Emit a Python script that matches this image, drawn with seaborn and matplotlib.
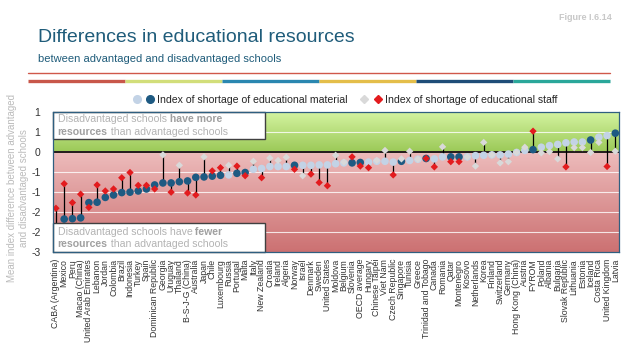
import numpy as np
import pandas as pd
import matplotlib.pyplot as plt
import seaborn as sns
from matplotlib.colors import LinearSegmentedColormap
from matplotlib.patches import Rectangle
from matplotlib.lines import Line2D
from matplotlib.legend_handler import HandlerTuple

# Data
countries = [
    'CABA (Argentina)', 'Mexico', 'Peru', 'Macao (China)', 'United Arab Emirates',
    'Lebanon', 'Jordan', 'Colombia', 'Brazil', 'Indonesia', 'Turkey', 'Spain',
    'Dominican Republic', 'Georgia', 'Uruguay', 'Thailand', 'B-S-J-G (China)',
    'Australia', 'Japan', 'Chile', 'Luxembourg', 'Russia', 'Portugal', 'Malta',
    'Italy', 'New Zealand', 'Croatia', 'Ireland', 'Algeria', 'Norway', 'Israel',
    'Denmark', 'Sweden', 'United States', 'Moldova', 'Belgium', 'Slovenia',
    'OECD average', 'Hungary', 'Chinese Taipei', 'Viet Nam', 'Czech Republic',
    'Singapore', 'Tunisia', 'Greece', 'Trinidad and Tobago', 'Canada', 'Romania',
    'Qatar', 'Montenegro', 'Kosovo', 'Netherlands', 'Korea', 'Finland',
    'Switzerland', 'Germany', 'Hong Kong (China)', 'Austria', 'FYROM', 'Poland',
    'Albania', 'Bulgaria', 'Slovak Republic', 'Lithuania', 'Estonia', 'Iceland',
    'Costa Rica', 'United Kingdom', 'Latvia']

material = [
    -2.10, -1.68, -1.67, -1.65, -1.27, -1.26, -1.14, -1.08, -1.02, -1.01, -0.98, -0.93,
    -0.83, -0.78, -0.78, -0.75, -0.73, -0.64, -0.63, -0.61, -0.59, -0.58, -0.54, -0.52,
    -0.44, -0.42, -0.37, -0.37, -0.37, -0.34, -0.34, -0.34, -0.33, -0.33, -0.30, -0.28,
    -0.28, -0.27, -0.26, -0.24, -0.24, -0.26, -0.24, -0.22, -0.19, -0.17, -0.18, -0.13,
    -0.13, -0.13, -0.13, -0.10, -0.09, -0.08, -0.08, -0.06, -0.02, 0.03, 0.05, 0.11,
    0.15, 0.18, 0.22, 0.24, 0.24, 0.29, 0.36, 0.40, 0.46]
material_sig = [
    1, 1, 1, 1, 1, 1, 1, 1, 1, 1, 1, 1,
    1, 1, 1, 1, 1, 1, 1, 1, 1, 0, 1, 1,
    0, 0, 0, 0, 0, 1, 0, 0, 0, 0, 0, 0,
    1, 1, 0, 0, 0, 0, 1, 0, 0, 1, 0, 0,
    1, 1, 0, 0, 0, 0, 0, 0, 0, 0, 1, 0,
    0, 0, 0, 0, 0, 1, 0, 0, 1]

staff = [
    -1.41, -0.80, -1.27, -1.06, -1.39, -0.83, -0.98, -0.93, -0.65, -0.52, -0.84, -0.84,
    -0.93, -0.08, -1.01, -0.34, -1.03, -1.08, -0.13, -0.48, -0.40, -0.34, -0.36, -0.60,
    -0.24, -0.65, -0.16, -0.22, -0.14, -0.44, -0.60, -0.56, -0.77, -0.85, -0.09, -0.26,
    -0.13, -0.36, -0.40, -0.22, 0.03, -0.58, -0.18, 0.01, -0.19, -0.17, -0.38, 0.12,
    -0.25, -0.25, -0.13, -0.36, 0.23, -0.08, -0.28, -0.25, -0.02, 0.11, 0.51, -0.03,
    0.00, -0.18, -0.38, 0.10, 0.10, -0.02, 0.23, -0.37, 0.01]
staff_sig = [
    1, 1, 1, 1, 1, 1, 1, 1, 1, 1, 1, 1,
    1, 0, 1, 0, 1, 1, 0, 1, 1, 0, 1, 1,
    0, 1, 0, 0, 0, 1, 0, 1, 1, 1, 0, 0,
    1, 1, 1, 0, 0, 1, 0, 0, 0, 1, 1, 0,
    1, 1, 0, 0, 0, 0, 0, 0, 0, 0, 1, 0,
    0, 0, 1, 0, 0, 0, 0, 1, 0]

ytick_values = [1.0, 0.5, 0.0, -0.5, -1.0, -1.5, -2.0, -2.5]
ytick_labels = ['1', '1', '0', '-1', '-1', '-2', '-2', '-3']

df = pd.DataFrame({'country': countries, 'material': material, 'mat_sig': material_sig,
                   'staff': staff, 'staff_sig': staff_sig})
df['pos'] = np.arange(len(df))

sns.set_theme(style='white')
plt.rcParams['font.family'] = ['Liberation Sans', 'DejaVu Sans']

dark_blue = '#1E5A82'
light_blue = '#C3D3E6'
red = '#E31B1E'
light_grey = '#D9D9D9'
teal = '#1F5C7A'

fig = plt.figure(figsize=(6.38, 3.59), dpi=100)
ax = fig.add_axes([53 / 638, 1 - 252 / 359, (619 - 53) / 638, (252 - 111.5) / 359])
x0, x1 = -0.36, len(df) - 1 + 0.45
ax.set_xlim(x0, x1)
ax.set_ylim(-2.5, 1.0)

# gradient backgrounds
grad = np.linspace(0, 1, 200).reshape(-1, 1)
green_cmap = LinearSegmentedColormap.from_list('g', ['#9BC957', '#D5F4A2'])
red_cmap = LinearSegmentedColormap.from_list('r', ['#CC7172', '#EDBCBC'])
ax.imshow(grad, origin='lower', extent=[x0, x1, 0, 1.0], cmap=green_cmap, aspect='auto', zorder=0)
ax.imshow(grad, origin='lower', extent=[x0, x1, -2.5, 0], cmap=red_cmap, aspect='auto', zorder=0)
for yv in ytick_values[1:-1]:
    if yv != 0:
        ax.axhline(yv, color='white', lw=0.8, alpha=0.8, zorder=1)
ax.axhline(0, color='black', lw=1.2, zorder=1.5)

# connectors
ax.vlines(df['pos'], df['material'], df['staff'], color='black', lw=0.9, zorder=2)

sns.scatterplot(data=df, x='pos', y='material', hue='mat_sig',
                palette={0: light_blue, 1: dark_blue}, marker='o', s=30,
                edgecolor='none', legend=False, ax=ax, zorder=3)
sns.scatterplot(data=df, x='pos', y='staff', hue='staff_sig',
                palette={0: light_grey, 1: red}, marker='D', s=14,
                edgecolor='none', legend=False, ax=ax, zorder=4)

# annotation boxes
box_right = 25.4
for (yb, yt) in [(0.32, 1.0), (-2.5, -1.78)]:
    ax.add_patch(Rectangle((x0, yb), box_right - x0, yt - yb, facecolor='white',
                           edgecolor='#404040', lw=1, zorder=5, clip_on=False))

txt_kw = dict(fontsize=7.6, color='#B3B3B3', zorder=6)
bold_kw = dict(fontsize=7.6, color='#A0A0A0', fontweight='bold', zorder=6)


def rich_line(x, y, parts):
    prev = None
    for s, bold in parts:
        kw = bold_kw if bold else txt_kw
        if prev is None:
            prev = ax.text(x, y, s, va='center', ha='left', **kw)
        else:
            prev = ax.annotate(s, xy=(1, 0), xycoords=prev, va='bottom', ha='left', **kw)


rich_line(0.2, 0.82, [('Disadvantaged schools', False), (' have more', True)])
rich_line(0.2, 0.48, [('resources', True), (' than advantaged schools', False)])
rich_line(0.2, -1.99, [('Disadvantaged schools have', False), (' fewer', True)])
rich_line(0.2, -2.30, [('resources', True), (' than advantaged schools', False)])

# axes styling
ax.set_xticks(df['pos'])
ax.set_xticklabels(df['country'], rotation=90, fontsize=6.3, color='#333333')
ax.set_yticks(ytick_values)
ax.set_yticklabels(ytick_labels, fontsize=7.5, color='#333333')
ax.tick_params(axis='both', length=0)
ax.tick_params(axis='x', pad=5)
ax.tick_params(axis='y', pad=9)
ax.set_xlabel('')
ax.set_ylabel('')
for sp in ax.spines.values():
    sp.set_color('#2F5F80')
    sp.set_linewidth(0.9)
    sp.set_zorder(7)

fig.text(18 / 638, 1 - 188 / 359,
         'Mean index difference between advantaged\nand disadvantaged schools',
         rotation=90, ha='center', va='center', fontsize=7, color='#BBBBBB',
         multialignment='center', linespacing=1.2)

# legend
handles = [(Line2D([], [], marker='o', ls='', color=light_blue, ms=5.5),
            Line2D([], [], marker='o', ls='', color=dark_blue, ms=5.5)),
           (Line2D([], [], marker='D', ls='', color=light_grey, ms=3.8),
            Line2D([], [], marker='D', ls='', color=red, ms=3.8))]
fig.legend(handles, ['Index of shortage of educational material',
                     'Index of shortage of educational staff'],
           handler_map={tuple: HandlerTuple(ndivide=None, pad=0.5)},
           loc='center', bbox_to_anchor=(345 / 638, 1 - 100 / 359), ncol=2,
           frameon=False, fontsize=7.6, handlelength=2.0, columnspacing=1.2,
           handletextpad=0.3)

# header
fig.text(38 / 638, 1 - 38 / 359, 'Differences in educational resources',
         fontsize=14, color=teal, va='center', ha='left')
fig.text(38 / 638, 1 - 59 / 359, 'between advantaged and disadvantaged schools',
         fontsize=8, color=teal, va='center', ha='left')
fig.text(612 / 638, 1 - 18 / 359, 'Figure I.6.14', fontsize=6.5, color='#C8C8C8',
         fontweight='bold', va='center', ha='right')

lx0, lx1 = 28 / 638, 610 / 638
fig.add_artist(Line2D([lx0, lx1], [1 - 73 / 359] * 2, transform=fig.transFigure,
                      color='#D0584A', lw=1.0))
bar_colors = ['#C8574A', '#D2DE7A', '#2A87B0', '#E4BE4A', '#1F4D78', '#2AA79A']
seg = (lx1 - lx0) / len(bar_colors)
for i, c in enumerate(bar_colors):
    fig.add_artist(Line2D([lx0 + i * seg, lx0 + (i + 1) * seg], [1 - 81 / 359] * 2,
                          transform=fig.transFigure, color=c, lw=2.4,
                          solid_capstyle='butt'))

fig.savefig('out.png', dpi=100, facecolor='white')
